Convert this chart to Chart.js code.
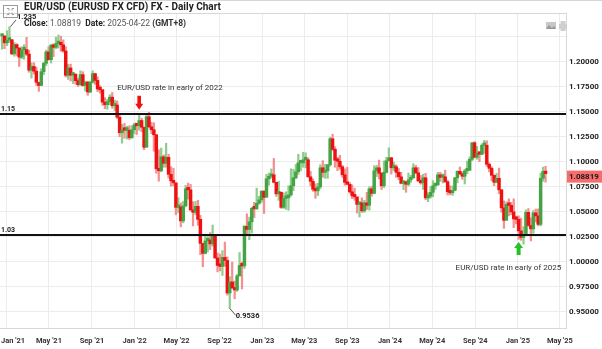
<!DOCTYPE html>
<html><head><meta charset="utf-8">
<script src="https://cdn.jsdelivr.net/npm/chart.js@4"></script>
<style>
html,body{margin:0;padding:0;background:#fff;}
#wrap{position:relative;width:602px;height:349px;overflow:hidden;}
canvas{display:block;}
</style></head><body>
<div id="wrap"><canvas id="c" width="602" height="349"></canvas></div>
<script>
// Weekly candles (Friday closes), first week ends Fri 18 Dec 2020; x = days from 1 Jan 2021
const firstWeekDay = -14;
const weekStep = 7;
const closes = [
1.2255,1.2188,1.2215,1.2219,1.2078,1.2170,1.2136,1.2045,1.2118,1.2120,
1.2075,1.1915,1.1952,1.1905,1.1794,1.1762,1.1900,1.1983,1.2097,1.2020,
1.2165,1.2143,1.2180,1.2193,1.2168,1.2107,1.1864,1.1937,1.1865,1.1875,
1.1810,1.1770,1.1870,1.1762,1.1795,1.1697,1.1795,1.1880,1.1813,1.1727,
1.1720,1.1596,1.1570,1.1600,1.1645,1.1560,1.1567,1.1445,1.1290,1.1317,
1.1315,1.1315,1.1240,1.1320,1.1370,1.1360,1.1412,1.1345,1.1145,1.1450,
1.1350,1.1320,1.1270,1.0930,1.0910,1.1050,1.0985,1.1045,1.0875,1.0810,
1.0790,1.0545,1.0550,1.0410,1.0560,1.0730,1.0720,1.0520,1.0495,1.0555,
1.0425,1.0185,1.0085,1.0210,1.0220,1.0180,1.0260,1.0040,0.9965,0.9955,
1.0045,1.0015,0.9690,0.9800,0.9740,0.9720,0.9860,0.9965,0.9960,1.0355,
1.0325,1.0400,1.0535,1.0530,1.0585,1.0620,1.0705,1.0645,1.0830,1.0855,
1.0870,1.0795,1.0680,1.0695,1.0545,1.0635,1.0640,1.0670,1.0760,1.0840,
1.0900,1.0990,1.0990,1.1020,1.1020,1.0850,1.0805,1.0725,1.0710,1.0750,
1.0940,1.0895,1.0910,1.0970,1.1230,1.1125,1.1015,1.1005,1.0950,1.0870,
1.0795,1.0775,1.0700,1.0660,1.0650,1.0575,1.0590,1.0510,1.0590,1.0565,
1.0730,1.0685,1.0910,1.0940,1.0885,1.0760,1.0895,1.1010,1.1040,1.0940,
1.0950,1.0895,1.0850,1.0785,1.0785,1.0775,1.0820,1.0840,1.0940,1.0890,
1.0810,1.0790,1.0840,1.0640,1.0655,1.0695,1.0760,1.0770,1.0870,1.0845,
1.0850,1.0800,1.0700,1.0690,1.0715,1.0840,1.0905,1.0880,1.0855,1.0910,
1.0915,1.1025,1.1190,1.1045,1.1085,1.1075,1.1165,1.1165,1.0975,1.0935,
1.0865,1.0795,1.0835,1.0720,1.0540,1.0415,1.0575,1.0565,1.0500,1.0430,
1.0425,1.0310,1.0245,1.0270,1.0495,1.0365,1.0330,1.0490,1.0460,1.0375,
1.0835,1.0905,1.0882
];
const highs = [
1.2273,1.2265,1.2310,1.2349,1.2222,1.2190,1.2180,1.2140,1.2150,1.2170,
1.2243,1.2115,1.1990,1.1990,1.1945,1.1790,1.1930,1.1994,1.2115,1.2150,
1.2172,1.2180,1.2245,1.2266,1.2255,1.2218,1.2150,1.1975,1.1975,1.1895,
1.1880,1.1835,1.1909,1.1900,1.1805,1.1805,1.1805,1.1909,1.1885,1.1849,
1.1760,1.1720,1.1640,1.1624,1.1670,1.1692,1.1616,1.1608,1.1465,1.1375,
1.1383,1.1355,1.1360,1.1360,1.1386,1.1370,1.1482,1.1435,1.1345,1.1483,
1.1495,1.1395,1.1390,1.1270,1.1120,1.1137,1.1070,1.1185,1.1075,1.0950,
1.0936,1.0785,1.0642,1.0590,1.0606,1.0765,1.0787,1.0774,1.0601,1.0605,
1.0615,1.0465,1.0185,1.0278,1.0254,1.0293,1.0368,1.0275,1.0090,1.0079,
1.0113,1.0198,1.0050,0.9853,0.9999,0.9809,0.9875,1.0094,1.0000,1.0364,
1.0480,1.0448,1.0545,1.0595,1.0737,1.0655,1.0714,1.0713,1.0875,1.0887,
1.0929,1.1033,1.0790,1.0805,1.0700,1.0690,1.0700,1.0760,1.0930,1.0925,
1.0973,1.1075,1.1010,1.1095,1.1090,1.1040,1.0905,1.0830,1.0780,1.0785,
1.0970,1.1012,1.0975,1.0975,1.1245,1.1276,1.1150,1.1045,1.1065,1.0965,
1.0930,1.0945,1.0795,1.0769,1.0737,1.0620,1.0600,1.0640,1.0615,1.0695,
1.0750,1.0756,1.0960,1.0965,1.1017,1.0895,1.1009,1.1045,1.1140,1.1045,
1.0998,1.0970,1.0933,1.0895,1.0811,1.0806,1.0888,1.0865,1.0981,1.0964,
1.0942,1.0865,1.0876,1.0885,1.0690,1.0752,1.0812,1.0790,1.0895,1.0895,
1.0880,1.0916,1.0815,1.0760,1.0760,1.0845,1.0910,1.0948,1.0900,1.0925,
1.1008,1.1048,1.1192,1.1202,1.1155,1.1100,1.1180,1.1214,1.1210,1.0990,
1.0950,1.0870,1.0885,1.0937,1.0725,1.0610,1.0600,1.0630,1.0595,1.0630,
1.0457,1.0460,1.0437,1.0353,1.0520,1.0533,1.0440,1.0513,1.0528,1.0530,
1.0888,1.0947,1.0955
];
const lows = [
1.2125,1.2130,1.2160,1.2190,1.2070,1.2054,1.2058,1.1952,1.2030,1.2023,
1.2060,1.1894,1.1836,1.1875,1.1762,1.1704,1.1760,1.1870,1.1960,1.2015,
1.1986,1.2051,1.2130,1.2135,1.2104,1.2093,1.1847,1.1823,1.1807,1.1782,
1.1775,1.1752,1.1762,1.1755,1.1706,1.1664,1.1690,1.1785,1.1772,1.1700,
1.1685,1.1563,1.1529,1.1525,1.1570,1.1535,1.1513,1.1433,1.1250,1.1186,
1.1235,1.1227,1.1222,1.1235,1.1280,1.1272,1.1315,1.1300,1.1121,1.1155,
1.1340,1.1280,1.1106,1.0885,1.0806,1.0900,1.0945,1.0945,1.0837,1.0757,
1.0760,1.0470,1.0490,1.0350,1.0390,1.0550,1.0627,1.0510,1.0359,1.0470,
1.0365,1.0072,0.9952,1.0080,1.0100,1.0123,1.0155,1.0035,0.9900,0.9910,
0.9865,0.9955,0.9668,0.9536,0.9735,0.9632,0.9705,0.9860,0.9730,0.9935,
1.0270,1.0222,1.0290,1.0443,1.0525,1.0575,1.0595,1.0483,1.0655,1.0766,
1.0835,1.0790,1.0655,1.0615,1.0535,1.0533,1.0525,1.0516,1.0655,1.0712,
1.0830,1.0875,1.0910,1.0945,1.0940,1.0847,1.0760,1.0705,1.0635,1.0662,
1.0730,1.0845,1.0835,1.0835,1.0955,1.1110,1.0945,1.0912,1.0925,1.0845,
1.0766,1.0770,1.0686,1.0632,1.0615,1.0488,1.0448,1.0495,1.0495,1.0523,
1.0517,1.0655,1.0680,1.0852,1.0828,1.0723,1.0743,1.0887,1.1010,1.0877,
1.0910,1.0845,1.0822,1.0780,1.0722,1.0695,1.0760,1.0795,1.0835,1.0880,
1.0800,1.0776,1.0724,1.0622,1.0601,1.0635,1.0650,1.0725,1.0765,1.0805,
1.0788,1.0795,1.0668,1.0670,1.0665,1.0710,1.0790,1.0870,1.0825,1.0778,
1.0880,1.0915,1.1010,1.1040,1.1025,1.1001,1.1070,1.1082,1.0952,1.0900,
1.0810,1.0761,1.0790,1.0683,1.0496,1.0335,1.0425,1.0460,1.0470,1.0343,
1.0380,1.0225,1.0215,1.0177,1.0265,1.0355,1.0210,1.0285,1.0400,1.0360,
1.0360,1.0805,1.0797
];
const tickDays = [0,120,243,365,485,608,730,850,973,1095,1216,1339,1461,1581];
const tickLabels = ["Jan '21","May '21","Sep '21","Jan '22","May '22","Sep '22","Jan '23","May '23","Sep '23","Jan '24","May '24","Sep '24","Jan '25","May '25"];
const yTickValues = [0.95,0.975,1.0,1.025,1.05,1.075,1.1,1.125,1.15,1.175,1.2,1.225];
const lastClose = 1.08819;
const levels = [{value:1.148,label:'1.15'},{value:1.027,label:'1.03'}];
const peakLabel = {index:3, value:1.2349, text:'1.235'};
const troughLabel = {index:93, value:0.9536, text:'0.9536'};
const note2022 = {day:378, text:'EUR/USD rate in early of 2022'};
const note2025 = {day:1463, text:'EUR/USD rate in early of 2025'};
const titleText = 'EUR/USD (EURUSD FX CFD) FX - Daily Chart';

const UP='#45a345', DOWN='#ee1111', UPW='#8fcd8f', DOWNW='#f49090';
const days = closes.map((_,i)=>firstWeekDay+weekStep*i);
const opens = closes.map((c,i)=> i===0 ? c : closes[i-1]);
const isUp = closes.map((c,i)=> c>=opens[i]);

function arrow(ctx,cx,tipY,baseY,color,hh,sh){
  const dir = baseY>tipY?1:-1, neck = tipY+dir*6;
  ctx.fillStyle=color; ctx.beginPath();
  ctx.moveTo(cx,tipY); ctx.lineTo(cx+hh,neck); ctx.lineTo(cx+sh,neck); ctx.lineTo(cx+sh,baseY);
  ctx.lineTo(cx-sh,baseY); ctx.lineTo(cx-sh,neck); ctx.lineTo(cx-hh,neck); ctx.closePath(); ctx.fill();
}

const overlay = {
  id:'overlay',
  afterDatasetsDraw(chart){
    const {ctx, chartArea:a, scales:{x,y}} = chart;
    const W = chart.width;
    ctx.save();
    // frame lines
    ctx.strokeStyle='#d6d6d6'; ctx.lineWidth=1;
    ctx.beginPath(); ctx.moveTo(0,0.5); ctx.lineTo(W,0.5); ctx.stroke();
    ctx.beginPath(); ctx.moveTo(a.left,a.top+0.5); ctx.lineTo(a.right,a.top+0.5); ctx.stroke();
    // level lines
    levels.forEach(l=>{
      const py = Math.round(y.getPixelForValue(l.value));
      ctx.fillStyle='#111'; ctx.fillRect(a.left, py-1, a.right-a.left, 2);
      ctx.font='bold 7px Roboto'; ctx.textAlign='left'; ctx.textBaseline='alphabetic'; ctx.fillStyle='#222';
      ctx.fillText(l.label, 1, py-3);
    });
    // peak / trough labels
    ctx.strokeStyle='#333'; ctx.lineWidth=0.8;
    let px = x.getPixelForValue(days[peakLabel.index]), py = y.getPixelForValue(peakLabel.value);
    ctx.beginPath(); ctx.moveTo(px+1,py); ctx.lineTo(16,20); ctx.stroke();
    ctx.font='bold 7.5px Roboto'; ctx.fillStyle='#222'; ctx.textBaseline='middle';
    ctx.fillText(peakLabel.text, 17, 17.5);
    px = x.getPixelForValue(days[troughLabel.index]); py = y.getPixelForValue(troughLabel.value);
    ctx.beginPath(); ctx.moveTo(px,py); ctx.lineTo(px+6,py+7); ctx.stroke();
    ctx.fillText(troughLabel.text, px+6, py+8);
    // arrows + notes
    let cx = x.getPixelForValue(note2022.day);
    let tip = y.getPixelForValue(levels[0].value)-4;
    arrow(ctx,cx,tip,tip-14,'#f01010',4,1.8);
    ctx.font='8px Roboto'; ctx.fillStyle='#333'; ctx.textAlign='left'; ctx.textBaseline='middle';
    ctx.fillText(note2022.text, cx-22, tip-22);
    cx = x.getPixelForValue(note2025.day);
    tip = y.getPixelForValue(levels[1].value)+7;
    arrow(ctx,cx,tip,tip+13,'#22c322',4.5,2);
    ctx.fillStyle='#333';
    ctx.fillText(note2025.text, cx-63, tip+26);
    // last price box
    const lp = y.getPixelForValue(lastClose)+3;
    ctx.fillStyle='#f76d6d'; ctx.fillRect(a.right+1, lp-6, W-a.right-1, 12);
    ctx.font='bold 8px Roboto'; ctx.fillStyle='#1a1a1a'; ctx.textBaseline='middle';
    ctx.fillText(lastClose.toFixed(5), a.right+3, lp+0.5);
    // x labels
    ctx.font='bold 7.5px Roboto'; ctx.fillStyle='#333'; ctx.textBaseline='middle';
    tickDays.forEach((d,i)=>{
      const tx = x.getPixelForValue(d); const w = ctx.measureText(tickLabels[i]).width;
      let left = tx - w/2; if(left<1) left=1; if(left+w>W-1) left=W-1-w;
      ctx.textAlign='left'; ctx.fillText(tickLabels[i], left, a.bottom+13);
    });
    // title
    ctx.textAlign='left'; ctx.textBaseline='middle';
    ctx.font='bold 10px Roboto'; ctx.fillStyle='#222';
    ctx.fillText(titleText, 24, 7.5);
    let sx = 24; const sy = 24;
    [['bold','Close:','#222'],['normal',' 1.08819  ','#555'],['bold','Date:','#222'],['normal',' 2025-04-22 ','#555'],['bold','(GMT+8)','#333']].forEach(([wgt,t,c])=>{
      ctx.font=wgt+' 8.5px Roboto'; ctx.fillStyle=c; ctx.fillText(t,sx,sy); sx+=ctx.measureText(t).width;
    });
    // icons
    ctx.strokeStyle='#9a9a9a'; ctx.lineWidth=1; ctx.strokeRect(3.5,5.5,14,12);
    ctx.beginPath();
    ctx.moveTo(7,8.5);ctx.lineTo(9,8.5);ctx.lineTo(9,10.5);
    ctx.moveTo(12,8.5);ctx.lineTo(14,8.5);ctx.moveTo(12,8.5);ctx.lineTo(12,10.5);
    ctx.moveTo(7,14.5);ctx.lineTo(9,14.5);ctx.lineTo(9,12.5);
    ctx.moveTo(12,14.5);ctx.lineTo(14,14.5);ctx.moveTo(12,14.5);ctx.lineTo(12,12.5);
    ctx.stroke();
    ctx.fillStyle='#c8c8c8'; ctx.fillRect(546,22,10,7);
    ctx.fillStyle='#9a9a9a'; ctx.beginPath(); ctx.moveTo(546,29);ctx.lineTo(549,25);ctx.lineTo(552,28);ctx.lineTo(554,26);ctx.lineTo(556,29);ctx.closePath();ctx.fill();
    ctx.fillStyle='#cfcfcf'; ctx.fillRect(559,24,8,5); ctx.fillRect(560.5,21,5,3); ctx.fillRect(560.5,28,5,3);
    ctx.restore();
  }
};

const bodyData = closes.map((c,i)=>({x:days[i], y:[opens[i], c]}));
const wickData = closes.map((c,i)=>({x:days[i], y:[lows[i], highs[i]]}));

new Chart(document.getElementById('c'), {
  type:'bar',
  data:{datasets:[
    {label:'wick', data:wickData, backgroundColor:isUp.map(u=>u?UPW:DOWNW), barThickness:1.6, grouped:false, order:2},
    {label:'EUR/USD', data:bodyData, backgroundColor:isUp.map(u=>u?UP:DOWN), barThickness:2.8, minBarLength:2.5, grouped:false, order:1}
  ]},
  options:{
    responsive:false, animation:false, devicePixelRatio:1,
    layout:{padding:{top:13,left:0,right:0,bottom:0}},
    plugins:{legend:{display:false}, tooltip:{enabled:false}},
    scales:{
      x:{type:'linear', min:-20, max:1598.5, offset:false,
        afterBuildTicks(s){ s.ticks = tickDays.map(v=>({value:v})); },
        afterFit(s){ s.height = 21; },
        ticks:{display:false},
        grid:{color:'#ececec', drawTicks:false, offset:false},
        border:{display:true, color:'#d8d8d8'}},
      y:{type:'linear', position:'right', min:0.934, max:1.2486,
        afterBuildTicks(s){ s.ticks = yTickValues.map(v=>({value:v})); },
        afterFit(s){ s.width = 36; },
        ticks:{padding:3, color:'#222', font:{family:'Roboto', size:8, weight:'bold'},
          callback:(v)=> v<=1.2001 ? Number(v).toFixed(5) : ''},
        grid:{color:'#ececec', drawTicks:false},
        border:{display:true, color:'#d8d8d8'}}
    }
  },
  plugins:[overlay]
});
</script>
</body></html>
